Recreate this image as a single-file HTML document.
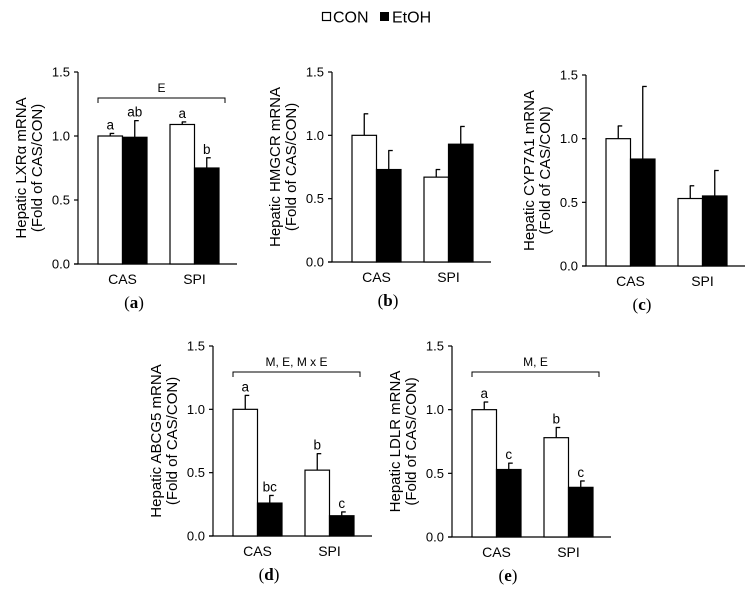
<!DOCTYPE html>
<html><head><meta charset="utf-8"><style>
html,body{margin:0;padding:0;background:#fff;}
svg text{font-family:"Liberation Sans",Arial,sans-serif;fill:#000;}
</style></head><body>
<svg id="fig" width="754" height="591" viewBox="0 0 754 591" xmlns="http://www.w3.org/2000/svg">
<g>
<rect x="322.5" y="12.5" width="8" height="8" fill="#fff" stroke="#000" stroke-width="1.2"/>
<text x="333" y="22.5" font-size="16">CON</text>
<rect x="380" y="12" width="9" height="9" fill="#000"/>
<text x="392" y="22.5" font-size="16">EtOH</text>
</g>
</svg>
<script>
const categories = ["CAS","SPI"];
const panelIds = ["a","b","c","d","e"];
const yTitles = ["Hepatic LXRα mRNA","Hepatic HMGCR mRNA","Hepatic CYP7A1 mRNA","Hepatic ABCG5 mRNA","Hepatic LDLR mRNA"];
const yTicks = [0, 0.5, 1.0, 1.5];
const yTickLabels = ["0.0","0.5","1.0","1.5"];
const conValues = [[1.0,1.09],[1.0,0.67],[1.0,0.53],[1.0,0.52],[1.0,0.78]];
const conErrors = [[0.02,0.02],[0.17,0.06],[0.10,0.10],[0.11,0.13],[0.06,0.08]];
const etohValues = [[0.99,0.75],[0.73,0.93],[0.84,0.55],[0.26,0.16],[0.53,0.39]];
const etohErrors = [[0.13,0.08],[0.15,0.14],[0.57,0.20],[0.06,0.03],[0.05,0.05]];
const conLetters = [["a","a"],null,null,["a","b"],["a","b"]];
const etohLetters = [["ab","b"],null,null,["bc","c"],["c","c"]];
const brackets = ["E",null,null,"M, E, M x E","M, E"];

const layout = [
 {ox:78, y0:264, top:72},
 {ox:332, y0:262, top:72},
 {ox:586, y0:266, top:75},
 {ox:213, y0:536, top:346},
 {ox:452, y0:537, top:346}
];
const NS="http://www.w3.org/2000/svg";
const svg=document.getElementById('fig');
function mk(tag,attrs,parent){const e=document.createElementNS(NS,tag);for(const k in attrs)e.setAttribute(k,attrs[k]);(parent||svg).appendChild(e);return e;}

panelIds.forEach((pid,i)=>{
  const L=layout[i];
  const g=mk('g',{});
  
  
  const yScale=v=>L.y0-(v/1.5)*(L.y0-L.top);
  const xGroup=j=>L.ox+20+j*72;
  const bw=24.5;
  const ya=mk('line',{x1:L.ox,y1:L.top,x2:L.ox,y2:L.y0,stroke:'#000','stroke-width':1.2},g);
  
  
  const xa=mk('line',{x1:L.ox-4,y1:L.y0,x2:L.ox+159,y2:L.y0,stroke:'#000','stroke-width':1.2},g);
  
  
  yTicks.forEach((t,k)=>{
    const y=yScale(t);
    const tk=mk('line',{x1:L.ox-4,y1:y,x2:L.ox,y2:y,stroke:'#000','stroke-width':1.2},g);
    
    
    const tl=mk('text',{x:L.ox-8,y:y+4.5,'font-size':13,'text-anchor':'end'},g);
    tl.textContent=yTickLabels[k];
    
    
  });
  const cy=(L.y0+L.top)/2;
  const t1=mk('text',{x:0,y:0,'font-size':15,'text-anchor':'middle',transform:`translate(${L.ox-52},${cy}) rotate(-90)`},g);
  t1.textContent=yTitles[i];
  
  
  const t2=mk('text',{x:0,y:0,'font-size':15,'text-anchor':'middle',transform:`translate(${L.ox-36},${cy}) rotate(-90)`},g);
  t2.textContent="(Fold of CAS/CON)";
  
  
  categories.forEach((c,j)=>{
    const x=xGroup(j);
    const cl=mk('text',{x:x+bw,y:L.y0+20,'font-size':14,'text-anchor':'middle'},g);
    cl.textContent=c;
    
    
    [[conValues,conErrors,'#fff',conLetters,'con',0],[etohValues,etohErrors,'#000',etohLetters,'etoh',bw]].forEach(([vals,errs,fill,lets,nm,off])=>{
      const v=vals[i][j], e=errs[i][j];
      const bx=x+off, by=yScale(v);
      const ex=bx+bw/2, ey=yScale(v+e);
      const el=mk('line',{x1:ex,y1:by,x2:ex,y2:ey,stroke:'#000','stroke-width':1.3},g);
      
      
      const ec=mk('line',{x1:ex-0.5,y1:ey,x2:ex+4,y2:ey,stroke:'#000','stroke-width':1.3},g);
      
      
      const r=mk('rect',{x:bx,y:by,width:bw,height:L.y0-by,fill:fill,stroke:'#000','stroke-width':1.2},g);
      
      
      if(lets[i]){
        const lt=mk('text',{x:ex,y:ey-4,'font-size':13.5,'text-anchor':'middle'},g);
        lt.textContent=lets[i][j];
        
        
      }
    });
  });
  if(brackets[i]){
    const byy=L.top+26, x1=xGroup(0), x2=xGroup(1)+2*bw+6;
    const bp=mk('path',{d:`M${x1},${byy+5}V${byy}H${x2}V${byy+5}`,fill:'none',stroke:'#000','stroke-width':1},g);
    
    
    const bt=mk('text',{x:(x1+x2)/2,y:byy-6,'font-size':12,'text-anchor':'middle'},g);
    bt.textContent=brackets[i];
    
    
  }
  const pl=mk('text',{x:L.ox+56,y:L.y0+44,'font-size':17,'text-anchor':'middle'},g);
  pl.setAttribute('style','font-family:"Liberation Serif",serif');
  pl.innerHTML='(<tspan font-weight="bold">'+pid+'</tspan>)';
  
  
});
</script>
</body></html>
